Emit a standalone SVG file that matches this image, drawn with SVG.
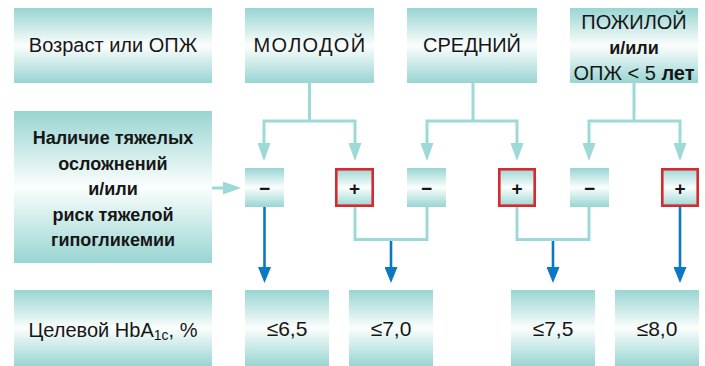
<svg xmlns="http://www.w3.org/2000/svg" width="705" height="366" viewBox="0 0 705 366">
<defs>
<linearGradient id="g" x1="0" y1="0" x2="0" y2="1">
<stop offset="0" stop-color="#98d5d2"/>
<stop offset="0.5" stop-color="#fbfefd"/>
<stop offset="1" stop-color="#98d5d2"/>
</linearGradient>
<marker id="ta" viewBox="0 0 18 13" refX="7" refY="6.5" markerWidth="18" markerHeight="13" markerUnits="userSpaceOnUse" orient="auto-start-reverse">
<path d="M0 0 L18 6.5 L0 13 Z" fill="#9dd9d6"/>
</marker>
<marker id="ba" viewBox="0 0 16 13" refX="5" refY="6.5" markerWidth="16" markerHeight="13" markerUnits="userSpaceOnUse" orient="auto">
<path d="M0 0 L16 6.5 L0 13 Z" fill="#0b79c1"/>
</marker>
</defs>
<style>
.box{fill:url(#g)}
.red{fill:none;stroke:#d42a30;stroke-width:2.6}
.t{font-family:"Liberation Sans",Arial,sans-serif;font-size:20px;fill:#161616;text-anchor:middle}
.v{font-family:"Liberation Sans",Arial,sans-serif;font-size:21px;fill:#161616;text-anchor:middle}
.b{font-family:"Liberation Sans",Arial,sans-serif;font-size:18px;font-weight:bold;fill:#161616;text-anchor:middle}
.s{font-family:"Liberation Sans",Arial,sans-serif;font-size:19px;font-weight:bold;fill:#161616;text-anchor:middle}
.tl{fill:none;stroke:#9dd9d6;stroke-width:3}
.bl{fill:none;stroke:#0b79c1;stroke-width:2.6}
</style>

<g id="connectors">
<path class="tl" d="M309.5 83 V121"/>
<path class="tl" d="M264 150 V121 H355 V150" marker-start="url(#ta)" marker-end="url(#ta)"/>
<path class="tl" d="M473 83 V121"/>
<path class="tl" d="M427 150 V121 H517 V150" marker-start="url(#ta)" marker-end="url(#ta)"/>
<path class="tl" d="M634 83 V121"/>
<path class="tl" d="M589 150 V121 H680 V150" marker-start="url(#ta)" marker-end="url(#ta)"/>
<path class="tl" d="M212 188 H230" marker-end="url(#ta)"/>
<path class="tl" d="M355 207 V239.5 H427 V207"/>
<path class="tl" d="M517 207 V239.5 H589 V207"/>
<path class="bl" d="M264.5 207 V272" marker-end="url(#ba)"/>
<path class="bl" d="M391 241 V272" marker-end="url(#ba)"/>
<path class="bl" d="M553 241 V272" marker-end="url(#ba)"/>
<path class="bl" d="M680 207 V272" marker-end="url(#ba)"/>
</g>

<g id="age-label">
<rect class="box" x="14" y="8" width="198" height="75"/>
<text class="t" x="113" y="52">Возраст или ОПЖ</text>
</g>
<g id="young">
<rect class="box" x="245" y="8" width="129" height="75"/>
<text class="t" x="310" y="52" letter-spacing="1.3">МОЛОДОЙ</text>
</g>
<g id="middle">
<rect class="box" x="407" y="8" width="130" height="75"/>
<text class="t" x="472" y="52">СРЕДНИЙ</text>
</g>
<g id="elderly">
<rect class="box" x="570" y="8" width="128" height="75"/>
<text class="t" x="634" y="29">ПОЖИЛОЙ</text>
<text class="b" x="634" y="54">и/или</text>
<text class="t" x="634" y="80">ОПЖ &lt; 5 <tspan font-weight="bold">лет</tspan></text>
</g>

<g id="complications-label">
<rect class="box" x="14" y="111" width="198" height="152"/>
<text class="b" x="113" y="144">Наличие тяжелых</text>
<text class="b" x="113" y="170">осложнений</text>
<text class="b" x="113" y="195">и/или</text>
<text class="b" x="113" y="221">риск тяжелой</text>
<text class="b" x="113" y="246">гипогликемии</text>
</g>

<g id="young-minus">
<rect class="box" x="245" y="168" width="39" height="39"/>
<text class="s" x="264.5" y="195">−</text>
</g>
<g id="young-plus">
<rect class="box" x="335" y="168" width="39" height="39"/>
<rect class="red" x="336.3" y="169.3" width="36.4" height="36.4"/>
<text class="s" x="354.5" y="195">+</text>
</g>
<g id="middle-minus">
<rect class="box" x="407" y="168" width="39" height="39"/>
<text class="s" x="426.5" y="195">−</text>
</g>
<g id="middle-plus">
<rect class="box" x="498" y="168" width="38" height="39"/>
<rect class="red" x="499.3" y="169.3" width="35.4" height="36.4"/>
<text class="s" x="517" y="195">+</text>
</g>
<g id="elderly-minus">
<rect class="box" x="570" y="168" width="39" height="39"/>
<text class="s" x="589.5" y="195">−</text>
</g>
<g id="elderly-plus">
<rect class="box" x="661" y="168" width="38" height="39"/>
<rect class="red" x="662.3" y="169.3" width="35.4" height="36.4"/>
<text class="s" x="680" y="195">+</text>
</g>

<g id="target-label">
<rect class="box" x="14" y="290" width="198" height="76"/>
<text class="t" x="113" y="337">Целевой HbA<tspan font-size="14" dy="3">1c</tspan><tspan dy="-3">, %</tspan></text>
</g>
<g id="t65">
<rect class="box" x="245" y="290" width="84" height="76"/>
<text class="v" x="287" y="336">≤6,5</text>
</g>
<g id="t70">
<rect class="box" x="349" y="290" width="84" height="76"/>
<text class="v" x="391" y="336">≤7,0</text>
</g>
<g id="t75">
<rect class="box" x="511" y="290" width="84" height="76"/>
<text class="v" x="553" y="336">≤7,5</text>
</g>
<g id="t80">
<rect class="box" x="615" y="290" width="84" height="76"/>
<text class="v" x="657" y="336">≤8,0</text>
</g>
</svg>
